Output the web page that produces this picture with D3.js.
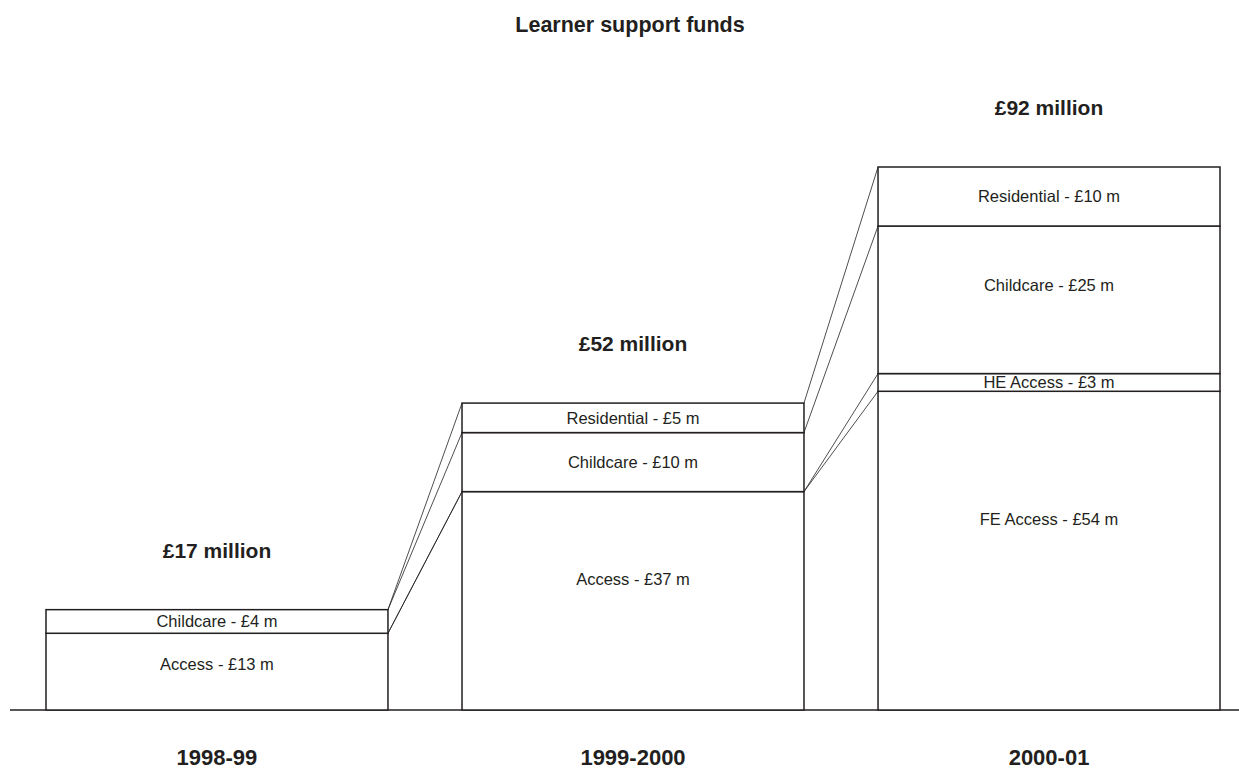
<!DOCTYPE html>
<html>
<head>
<meta charset="utf-8">
<script src="https://cdn.jsdelivr.net/npm/d3@7"></script>
<style>
  body { margin: 0; background: #fff; }
  text { font-family: "Liberation Sans", Arial, Helvetica, sans-serif; fill: #231f20; }
</style>
</head>
<body>
<svg id="chart" width="1239" height="769"></svg>
<script>
//* Data
const years = ["1998-99", "1999-2000", "2000-01"];
const totals = [17, 52, 92];
const feAccess = [13, 37, 54];
const heAccess = [0, 0, 3];
const childcare = [4, 10, 25];
const residential = [0, 5, 10];
const accessNames = ["Access", "Access", "FE Access"];
const keys = ["FE Access", "HE Access", "Childcare", "Residential"];

const table = years.map((year, i) => ({
  year,
  "FE Access": feAccess[i],
  "HE Access": heAccess[i],
  "Childcare": childcare[i],
  "Residential": residential[i]
}));

const labelName = (key, i) => key === "FE Access" ? accessNames[i] : key;

//* Chart area
const width = 1239;
const height = 769;
const baseY = 710;
const topY = 167;

const svg = d3.select("#chart");

const x = d3.scaleBand()
  .domain(years)
  .range([46, 1220])
  .paddingInner(0.178)
  .paddingOuter(0);

const y = d3.scaleLinear()
  .domain([0, d3.max(totals)])
  .range([baseY, topY]);

const series = d3.stack().keys(keys)(table);

// title
svg.append("text")
  .attr("x", 630)
  .attr("y", 32)
  .attr("text-anchor", "middle")
  .attr("font-size", "21.5px")
  .attr("font-weight", "bold")
  .text("Learner support funds");

// baseline
svg.append("line")
  .attr("x1", 10)
  .attr("x2", width)
  .attr("y1", baseY)
  .attr("y2", baseY)
  .attr("stroke", "#231f20")
  .attr("stroke-width", 1.5);

// connector lines between the stacks
const connectors = [];
series.forEach(s => {
  for (let i = 0; i < years.length - 1; i++) {
    connectors.push({ from: s[i][1], to: s[i + 1][1], i });
  }
});

svg.append("g")
  .selectAll("line")
  .data(connectors)
  .join("line")
  .attr("x1", d => x(years[d.i]) + x.bandwidth())
  .attr("y1", d => y(d.from))
  .attr("x2", d => x(years[d.i + 1]))
  .attr("y2", d => y(d.to))
  .attr("stroke", "#231f20")
  .attr("stroke-width", 0.8);

// segments
const segs = [];
series.forEach(s => {
  s.forEach((d, i) => {
    if (d[1] - d[0] > 0) {
      segs.push({ key: s.key, i, y0: d[0], y1: d[1], value: d[1] - d[0] });
    }
  });
});

const bars = svg.append("g");

bars.selectAll("rect")
  .data(segs)
  .join("rect")
  .attr("x", d => x(years[d.i]))
  .attr("y", d => y(d.y1))
  .attr("width", x.bandwidth())
  .attr("height", d => y(d.y0) - y(d.y1))
  .attr("fill", "#fff")
  .attr("stroke", "#231f20")
  .attr("stroke-width", 1.5);

bars.selectAll(".seg-label")
  .data(segs)
  .join("text")
  .attr("class", "seg-label")
  .attr("x", d => x(years[d.i]) + x.bandwidth() / 2)
  .attr("y", d => {
    const h = y(d.y0) - y(d.y1);
    return y(d.y1) + h * (h < 60 ? 0.5 : 0.4);
  })
  .attr("dy", "0.35em")
  .attr("text-anchor", "middle")
  .attr("font-size", "16.5px")
  .text(d => `${labelName(d.key, d.i)} - £${d.value} m`);

// totals above each stack
svg.append("g")
  .selectAll("text")
  .data(years)
  .join("text")
  .attr("x", d => x(d) + x.bandwidth() / 2)
  .attr("y", (d, i) => y(totals[i]) - 52)
  .attr("text-anchor", "middle")
  .attr("font-size", "21px")
  .attr("font-weight", "bold")
  .text((d, i) => `£${totals[i]} million`);

// year labels
svg.append("g")
  .selectAll("text")
  .data(years)
  .join("text")
  .attr("x", d => x(d) + x.bandwidth() / 2)
  .attr("y", 765)
  .attr("text-anchor", "middle")
  .attr("font-size", "22px")
  .attr("font-weight", "bold")
  .text(d => d);
</script>
</body>
</html>
